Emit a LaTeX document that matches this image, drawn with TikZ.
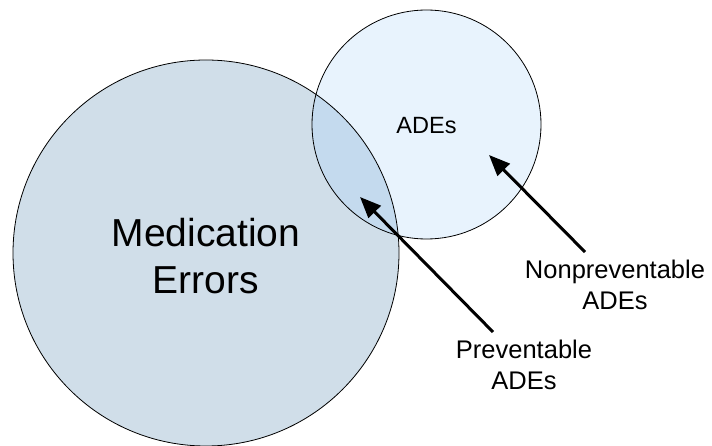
\documentclass[tikz,border=0pt]{standalone}
\usepackage{fontspec}
\setmainfont{Liberation Sans}
\usetikzlibrary{arrows.meta}
\definecolor{medfill}{HTML}{D0DEE9}
\definecolor{adefill}{HTML}{E8F3FD}
\definecolor{overfill}{HTML}{C4DAEE}
\tikzset{
  venn/.style={draw=black, line width=0.8pt},
  ptr/.style={line width=3pt, -{Triangle[length=21pt,width=17pt]}},
  lbl/.style={align=center, inner sep=0pt, font=\fontsize{25.5}{31}\selectfont},
}
\begin{document}
\begin{tikzpicture}[x=1pt, y=-1pt]
\useasboundingbox (0,0) rectangle (712,446);
% circles
\fill[medfill] (206,253) circle (193);
\fill[adefill] (426.5,124.5) circle (114.5);
\begin{scope}
  \clip (206,253) circle (193);
  \fill[overfill] (426.5,124.5) circle (114.5);
\end{scope}
\draw[venn] (206,253) circle (193);
\draw[venn] (426.5,124.5) circle (114.5);
% labels
\node[align=center, inner sep=0pt, font=\fontsize{39}{47}\selectfont] (med) at (206,256) {Medication\\Errors};
\node[inner sep=0pt, font=\fontsize{23.5}{28}\selectfont] (ades) at (426.5,126) {ADEs};
\node[lbl] (nonprev) at (615,285) {Nonpreventable\\ADEs};
\node[lbl] (prev) at (524,365) {Preventable\\ADEs};
% arrow ends
\coordinate (ptip) at (360,197);
\coordinate (ntip) at (489,155);
\coordinate (ptail) at (493,332);
\coordinate (ntail) at (585,252);
\draw[ptr] (ptail) -- (ptip);
\draw[ptr] (ntail) -- (ntip);
\end{tikzpicture}
\end{document}
